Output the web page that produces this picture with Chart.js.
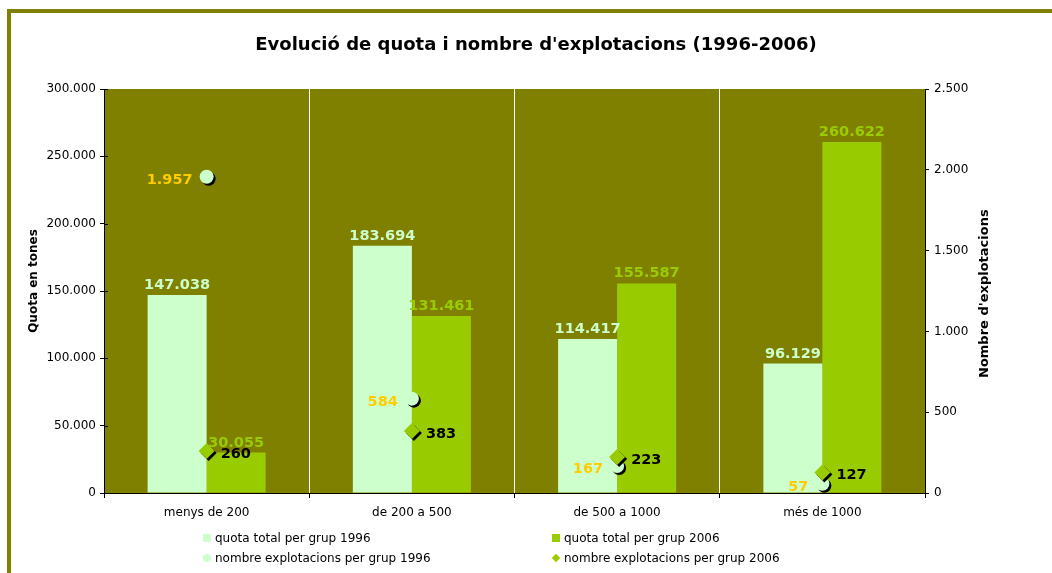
<!DOCTYPE html>
<html><head><meta charset="utf-8">
<script src="https://cdn.jsdelivr.net/npm/chart.js@4"></script>
<style>
html,body{margin:0;padding:0;background:#fff;overflow:hidden;width:1052px;height:573px;position:relative;}
#frame{position:absolute;left:7px;top:9px;width:1200px;height:800px;border-left:4px solid #808000;border-top:4px solid #808000;}
#wrap{position:absolute;left:10px;top:0;width:1052px;height:573px;}
.li{position:absolute;white-space:nowrap;font:12px "DejaVu Sans";color:#000;height:14px;line-height:14px;}
.mk{display:inline-block;vertical-align:middle;margin-right:4px;position:relative;top:-1px;}
</style></head>
<body>
<div id="frame"></div>
<div id="wrap"><canvas id="c" width="1052" height="573"></canvas></div>
<div id="legend"></div>
<script>
const categories = ['menys de 200', 'de 200 a 500', 'de 500 a 1000', 'més de 1000'];
const quota1996 = [147038, 183694, 114417, 96129];
const quota2006 = [30055, 131461, 155587, 260622];
const explot1996 = [1957, 584, 167, 57];
const explot2006 = [260, 383, 223, 127];
const seriesNames = ['quota total per grup 1996', 'quota total per grup 2006', 'nombre explotacions per grup 1996', 'nombre explotacions per grup 2006'];
const titleText = "Evolució de quota i nombre d'explotacions (1996-2006)";
const leftTitle = 'Quota en tones';
const rightTitle = "Nombre d'explotacions";

const OLIVE = '#808000', LIGHT = '#CCFFCC', GREEN = '#99CC00', YELLOW = '#FFCC00';
const fmt = v => String(v).replace(/\B(?=(\d{3})+(?!\d))/g, '.');
Chart.defaults.font.family = '"DejaVu Sans"';
Chart.defaults.color = '#000';

const bgPlugin = { id: 'bg', beforeDraw(chart) {
  const { ctx, chartArea: a } = chart; ctx.save(); ctx.fillStyle = OLIVE;
  ctx.fillRect(a.left, a.top, a.right - a.left, a.bottom - a.top); ctx.restore(); } };

const shadowPlugin = { id: 'shadow',
  beforeDatasetDraw(chart, args) { if (chart.data.datasets[args.index].type === 'line') {
    const c = chart.ctx; c.save(); c.shadowColor = '#000'; c.shadowOffsetX = 2; c.shadowOffsetY = 2; c.shadowBlur = 0; } },
  afterDatasetDraw(chart, args) { if (chart.data.datasets[args.index].type === 'line') chart.ctx.restore(); } };

const labelStyle = [
  { color: LIGHT, pos: 'top' }, { color: GREEN, pos: 'top' },
  { color: YELLOW, pos: 'left' }, { color: '#000', pos: 'right' }];

const labelPlugin = { id: 'vlabels', afterDatasetsDraw(chart) {
  const ctx = chart.ctx; ctx.save(); ctx.font = 'bold 14.5px "DejaVu Sans"'; ctx.textBaseline = 'alphabetic';
  chart.data.datasets.forEach((ds, i) => {
    const st = labelStyle[i]; const meta = chart.getDatasetMeta(i);
    meta.data.forEach((el, j) => {
      const t = fmt(ds.data[j]); ctx.fillStyle = st.color;
      if (st.pos === 'top') { ctx.textAlign = 'center'; ctx.fillText(t, el.x, el.y - 6); }
      else if (st.pos === 'left') { ctx.textAlign = 'right'; ctx.fillText(t, el.x - 14, el.y + 7); }
      else { ctx.textAlign = 'left'; ctx.fillText(t, el.x + 14, el.y + 7); }
    });
  });
  ctx.restore(); } };

const axisTitlePlugin = { id: 'axTitles', afterDraw(chart) {
  const ctx = chart.ctx, a = chart.chartArea, ys = chart.scales.y;
  ctx.save(); ctx.strokeStyle = '#000'; ctx.lineWidth = 1;
  ys.ticks.forEach(t => { const py = Math.round(ys.getPixelForValue(t.value)) + 0.5;
    ctx.beginPath(); ctx.moveTo(a.left, py); ctx.lineTo(a.left + 4, py); ctx.stroke(); });
  ctx.restore();
  ctx.save(); ctx.font = 'bold 12px "DejaVu Sans"'; ctx.fillStyle = '#000';
  ctx.translate(23.5, 281); ctx.rotate(-Math.PI / 2); ctx.textAlign = 'center'; ctx.textBaseline = 'middle';
  ctx.fillText(leftTitle, 0, 0); ctx.restore();
  ctx.save(); ctx.beginPath(); ctx.rect(940, 210, 112, 300); ctx.clip();
  ctx.font = 'bold 13px "DejaVu Sans"'; ctx.fillStyle = '#000';
  ctx.translate(975, 378); ctx.rotate(-Math.PI / 2); ctx.textAlign = 'left'; ctx.textBaseline = 'middle';
  ctx.fillText(rightTitle, 0, 0); ctx.restore(); } };

new Chart(document.getElementById('c'), {
  type: 'bar',
  data: { labels: categories, datasets: [
    { type: 'bar', label: seriesNames[0], data: quota1996, backgroundColor: LIGHT, yAxisID: 'y', order: 2, barPercentage: 1, categoryPercentage: 0.575 },
    { type: 'bar', label: seriesNames[1], data: quota2006, backgroundColor: GREEN, yAxisID: 'y', order: 2, barPercentage: 1, categoryPercentage: 0.575 },
    { type: 'line', label: seriesNames[2], data: explot1996, yAxisID: 'y1', showLine: false, order: 1,
      pointStyle: 'circle', pointRadius: 7, pointBackgroundColor: LIGHT, pointBorderWidth: 0, pointHoverRadius: 7 },
    { type: 'line', label: seriesNames[3], data: explot2006, yAxisID: 'y1', showLine: false, order: 0,
      pointStyle: 'rectRot', pointRadius: 8, pointBackgroundColor: GREEN, pointBorderWidth: 0, pointHoverRadius: 8 }
  ] },
  options: {
    responsive: false, animation: false, events: [],
    layout: { padding: 0 },
    plugins: { legend: { display: false }, tooltip: { enabled: false },
      title: { display: true, text: titleText, color: '#000', font: { size: 18, weight: 'bold' }, padding: { top: 34.2, bottom: 33.2 } } },
    scales: {
      x: { offset: true,
        grid: { offset: true, drawOnChartArea: true, lineWidth: 1, tickLength: 5, tickColor: '#000',
          color: c => (c.index === 0 || c.index === categories.length) ? 'rgba(0,0,0,0)' : '#FFFFFF' },
        border: { color: '#000', width: 1 },
        ticks: { color: '#000', font: { size: 12 }, padding: 8 },
        afterFit(s) { s.height = 80; } },
      y: { position: 'left', min: 0, max: 300000,
        ticks: { stepSize: 50000, callback: v => fmt(v), color: '#000', font: { size: 12 }, padding: 4 },
        grid: { drawOnChartArea: false, tickLength: 4, tickColor: '#000' }, border: { color: '#000' },
        afterFit(s) { s.width = 94; } },
      y1: { position: 'right', min: 0, max: 2500,
        ticks: { stepSize: 500, callback: v => fmt(v), color: '#000', font: { size: 12 }, padding: 5 },
        grid: { drawOnChartArea: false, tickLength: 4, tickColor: '#000' }, border: { color: '#000' },
        afterFit(s) { s.width = 137; } }
    }
  },
  plugins: [bgPlugin, shadowPlugin, labelPlugin, axisTitlePlugin]
});

// HTML legend (2 x 2 grid)
const legendPos = [[203, 531], [552, 531], [203, 551], [552, 551]];
const markers = [
  `<span class="mk" style="width:8px;height:8px;background:${LIGHT}"></span>`,
  `<span class="mk" style="width:8px;height:8px;background:${GREEN}"></span>`,
  `<span class="mk" style="width:8px;height:8px;border-radius:50%;background:${LIGHT}"></span>`,
  `<span class="mk" style="width:6px;height:6px;background:${GREEN};transform:rotate(45deg);margin-left:1px;margin-right:5px"></span>`];
const lg = document.getElementById('legend');
seriesNames.forEach((n, i) => {
  const d = document.createElement('div'); d.className = 'li';
  d.style.left = legendPos[i][0] + 'px'; d.style.top = legendPos[i][1] + 'px';
  d.innerHTML = markers[i] + n; lg.appendChild(d);
});
</script>
</body></html>
